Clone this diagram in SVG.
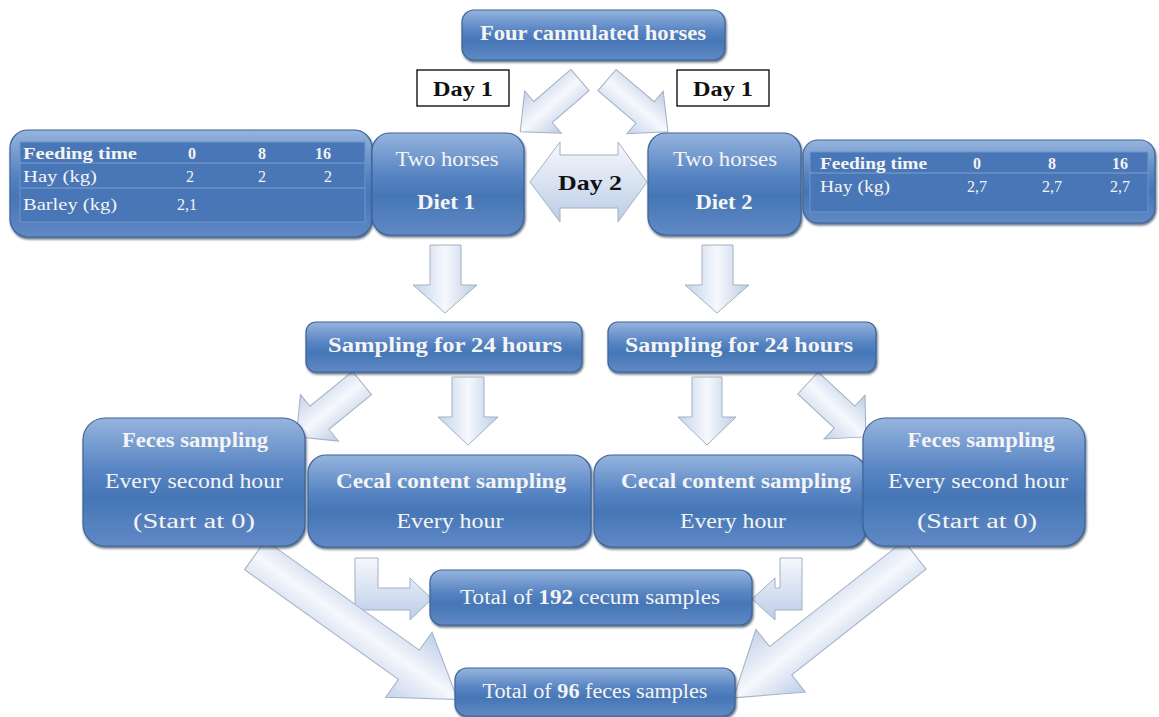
<svg xmlns="http://www.w3.org/2000/svg" width="1159" height="717" viewBox="0 0 1159 717">
<defs>
<linearGradient id="boxg" x1="0" y1="0" x2="0" y2="1">
<stop offset="0" stop-color="#96b4de"/>
<stop offset="0.42" stop-color="#5683c2"/>
<stop offset="0.62" stop-color="#4676b6"/>
<stop offset="1" stop-color="#6089c5"/>
</linearGradient>
<linearGradient id="arrg" x1="0" y1="0" x2="1" y2="0">
<stop offset="0" stop-color="#c3d3ea"/>
<stop offset="0.5" stop-color="#f6f8fc"/>
<stop offset="1" stop-color="#bccde7"/>
</linearGradient>
<linearGradient id="arrv" x1="0" y1="0" x2="0" y2="1">
<stop offset="0" stop-color="#f6f8fc"/>
<stop offset="1" stop-color="#bccde7"/>
</linearGradient>
<filter id="sh" x="-10%" y="-10%" width="120%" height="130%">
<feDropShadow dx="1" dy="2" stdDeviation="1.2" flood-color="#1f3550" flood-opacity="0.7"/>
</filter>
</defs>
<style>
.box{fill:url(#boxg);stroke:#3f6497;stroke-width:1.2;filter:url(#sh)}
.panel{fill:#4876b6;stroke:#6f95c8;stroke-width:1}
.row{stroke:#7fa1d0;stroke-width:1}
.arr{fill:url(#arrg);stroke:#a3b0c2;stroke-width:1}
.arrv{fill:url(#arrv);stroke:#a3b0c2;stroke-width:1}
.t{fill:#f4f4f4;font-size:20px}
.b{font-weight:bold}
.c{text-anchor:middle}
.tb{font-size:16px;fill:#f4f4f4}
.lbl{fill:#ffffff;stroke:#000000;stroke-width:1.3}
.dk{font-weight:bold;font-size:21px;fill:#111111}
</style>

<g id="connectors">
<g transform="translate(580,80) rotate(49.1)"><polygon class="arr" points="-14,0 14,0 14,49 28,49 0,79 -28,49 -14,49"/></g>
<g transform="translate(607,80) rotate(-49.6)"><polygon class="arr" points="-14,0 14,0 14,50 28,50 0,80 -28,50 -14,50"/></g>
<polygon class="arrv" points="530,182 560,142 560,155 618,155 618,142 647,182 618,222 618,208 560,208 560,222"/>
<polygon class="arr" points="430,245 461,245 461,285 477,285 445,313 413,285 430,285"/>
<polygon class="arr" points="702,245 733,245 733,285 749,285 717,313 685,285 702,285"/>
<g transform="translate(362,383) rotate(50.7)"><polygon class="arr" points="-15,0 15,0 15,55 30,55 0,85 -30,55 -15,55"/></g>
<polygon class="arr" points="452,377 484,377 484,417 498,417 468,445 438,417 452,417"/>
<polygon class="arr" points="692,377 722,377 722,417 736,417 707,445 678,417 692,417"/>
<g transform="translate(808,383) rotate(-47)"><polygon class="arr" points="-15,0 15,0 15,50 30,50 0,79 -30,50 -15,50"/></g>
<polygon class="arrv" points="355,558 378,558 378,588 410,588 410,578 432,599 410,620 410,610 355,610"/>
<polygon class="arrv" points="802,558 780,558 780,588 775,588 775,578 752,599 775,620 775,610 802,610"/>
<g transform="translate(255,555) rotate(-54.5)"><polygon class="arr" points="-18,0 18,0 18,189 40,189 0,249 -40,189 -18,189"/></g>
<g transform="translate(915,555) rotate(51.8)"><polygon class="arr" points="-18,0 18,0 18,171 40,171 0,231 -40,171 -18,171"/></g>
</g>

<g font-family="'Liberation Serif', 'DejaVu Serif', serif">
<g id="day1-left"><rect class="lbl" x="417" y="70" width="92" height="36"/><text class="dk c" x="463" y="96" textLength="60" lengthAdjust="spacingAndGlyphs">Day 1</text></g>
<g id="day1-right"><rect class="lbl" x="677" y="70" width="92" height="36"/><text class="dk c" x="723" y="96" textLength="60" lengthAdjust="spacingAndGlyphs">Day 1</text></g>
<g id="day2"><text class="dk c" x="590" y="190" textLength="64" lengthAdjust="spacingAndGlyphs">Day 2</text></g>

<g id="top">
<rect class="box" x="462" y="10" width="263" height="50" rx="12"/>
<text class="t b c" x="593" y="40" textLength="226" lengthAdjust="spacingAndGlyphs">Four cannulated horses</text>
</g>

<g id="table1">
<rect class="box" x="10" y="130" width="362" height="107" rx="18"/>
<rect class="panel" x="20" y="142" width="345" height="80"/>
<line class="row" x1="20" y1="163" x2="365" y2="163"/>
<line class="row" x1="20" y1="188" x2="365" y2="188"/>
<text class="tb b" x="23" y="159" textLength="114" lengthAdjust="spacingAndGlyphs">Feeding time</text>
<text class="tb b c" x="192" y="159">0</text>
<text class="tb b c" x="262" y="159">8</text>
<text class="tb b c" x="323" y="159">16</text>
<text class="tb" x="23" y="182" textLength="74" lengthAdjust="spacingAndGlyphs">Hay (kg)</text>
<text class="tb c" x="190" y="182">2</text>
<text class="tb c" x="262" y="182">2</text>
<text class="tb c" x="328" y="182">2</text>
<text class="tb" x="23" y="210" textLength="94" lengthAdjust="spacingAndGlyphs">Barley (kg)</text>
<text class="tb c" x="187" y="210">2,1</text>
</g>

<g id="diet1">
<rect class="box" x="372" y="133" width="152" height="102" rx="18"/>
<text class="t c" x="447" y="166" textLength="103" lengthAdjust="spacingAndGlyphs">Two horses</text>
<text class="t b c" x="446" y="209" textLength="58" lengthAdjust="spacingAndGlyphs">Diet 1</text>
</g>

<g id="diet2">
<rect class="box" x="648" y="133" width="153" height="102" rx="18"/>
<text class="t c" x="725" y="166" textLength="104" lengthAdjust="spacingAndGlyphs">Two horses</text>
<text class="t b c" x="724" y="209" textLength="57" lengthAdjust="spacingAndGlyphs">Diet 2</text>
</g>

<g id="table2">
<rect class="box" x="803" y="140" width="352" height="83" rx="15"/>
<rect class="panel" x="810" y="152" width="338" height="60"/>
<line class="row" x1="810" y1="173" x2="1148" y2="173"/>
<text class="tb b" x="820" y="169" textLength="107" lengthAdjust="spacingAndGlyphs">Feeding time</text>
<text class="tb b c" x="977" y="169">0</text>
<text class="tb b c" x="1052" y="169">8</text>
<text class="tb b c" x="1120" y="169">16</text>
<text class="tb" x="820" y="192" textLength="70" lengthAdjust="spacingAndGlyphs">Hay (kg)</text>
<text class="tb c" x="977" y="192">2,7</text>
<text class="tb c" x="1052" y="192">2,7</text>
<text class="tb c" x="1120" y="192">2,7</text>
</g>

<g id="sampling1">
<rect class="box" x="306" y="322" width="276" height="50" rx="10"/>
<text class="t b c" x="445" y="352" textLength="234" lengthAdjust="spacingAndGlyphs">Sampling for 24 hours</text>
</g>
<g id="sampling2">
<rect class="box" x="608" y="322" width="268" height="50" rx="10"/>
<text class="t b c" x="739" y="352" textLength="228" lengthAdjust="spacingAndGlyphs">Sampling for 24 hours</text>
</g>

<g id="feces1">
<rect class="box" x="83" y="418" width="222" height="128" rx="22"/>
<text class="t b c" x="195" y="447" textLength="146" lengthAdjust="spacingAndGlyphs">Feces sampling</text>
<text class="t c" x="194" y="488" textLength="178" lengthAdjust="spacingAndGlyphs">Every second hour</text>
<text class="t c" x="194" y="528" textLength="122" lengthAdjust="spacingAndGlyphs">(Start at 0)</text>
</g>
<g id="cecal1">
<rect class="box" x="308" y="455" width="283" height="92" rx="18"/>
<text class="t b c" x="451" y="488" textLength="230" lengthAdjust="spacingAndGlyphs">Cecal content sampling</text>
<text class="t c" x="450" y="528" textLength="107" lengthAdjust="spacingAndGlyphs">Every hour</text>
</g>
<g id="cecal2">
<rect class="box" x="594" y="455" width="272" height="92" rx="18"/>
<text class="t b c" x="736" y="488" textLength="230" lengthAdjust="spacingAndGlyphs">Cecal content sampling</text>
<text class="t c" x="733" y="528" textLength="106" lengthAdjust="spacingAndGlyphs">Every hour</text>
</g>
<g id="feces2">
<rect class="box" x="863" y="418" width="222" height="128" rx="22"/>
<text class="t b c" x="981" y="447" textLength="147" lengthAdjust="spacingAndGlyphs">Feces sampling</text>
<text class="t c" x="978" y="488" textLength="180" lengthAdjust="spacingAndGlyphs">Every second hour</text>
<text class="t c" x="977" y="528" textLength="120" lengthAdjust="spacingAndGlyphs">(Start at 0)</text>
</g>

<g id="total192">
<rect class="box" x="430" y="570" width="322" height="55" rx="12"/>
<text class="t c" x="590" y="604" textLength="260" lengthAdjust="spacingAndGlyphs">Total of <tspan class="b">192</tspan> cecum samples</text>
</g>
<g id="total96">
<rect class="box" x="455" y="668" width="280" height="48" rx="12"/>
<text class="t c" x="595" y="698" textLength="225" lengthAdjust="spacingAndGlyphs">Total of <tspan class="b">96</tspan> feces samples</text>
</g>
</g>
</svg>
